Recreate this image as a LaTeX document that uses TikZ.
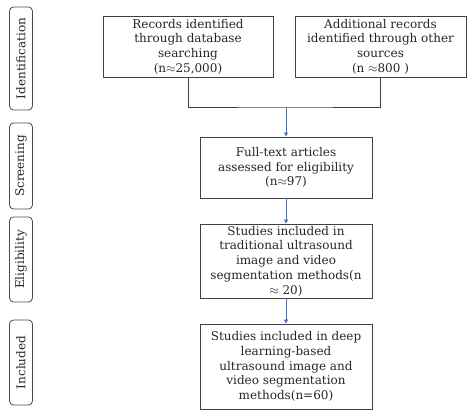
\documentclass[tikz,border=0pt]{standalone}
\usepackage{fontspec}
\setmainfont{DejaVu Serif}
\usetikzlibrary{positioning,arrows.meta}
\definecolor{flowblue}{HTML}{4472C4}

\begin{document}
\begin{tikzpicture}[x=1pt,y=-1pt]
\tikzstyle{every node}+=[inner sep=0pt,font=\fontsize{12}{14.7}\selectfont,text=black!85]
\tikzstyle{box}=[draw=black!75,line width=0.8pt,align=center,minimum width=172pt]
\tikzstyle{stage}=[draw=black!70,line width=0.8pt,rounded corners=4pt,rotate=90,minimum height=23pt]
\tikzstyle{flow}=[draw=flowblue,line width=0.7pt,-{Triangle[length=4pt,width=4pt]}]
\useasboundingbox (0,0) rectangle (474,417);
% stages
\node [stage,minimum width=103pt] (ident) at (21,58.5) {Identification};
\node [stage,minimum width=86pt] (screen) at (21,166) {Screening};
\node [stage,minimum width=85pt] (elig) at (21,259.5) {Eligibility};
\node [stage,minimum width=85pt] (incl) at (21,362.5) {Included};
% boxes
\node [box,minimum width=170pt,minimum height=61pt] (records) at (188,46.5)
  {Records identified\\through database\\searching\\(n$\approx$25,000)};
\node [box,minimum width=171pt,minimum height=61pt] (other) at (380.5,46.5)
  {Additional records\\identified through other\\sources\\(n $\approx$800 )};
\node [box,minimum height=61pt] (fulltext) at (286,167.5)
  {Full-text articles\\assessed for eligibility\\(n$\approx$97)};
\node [box,minimum height=74pt] (trad) at (286,261)
  {Studies included in\\traditional ultrasound\\image and video\\segmentation methods(n\\$\approx$ 20)};
\node [box,minimum height=85pt] (deep) at (286,366.5)
  {Studies included in deep\\learning-based\\ultrasound image and\\video segmentation\\methods(n=60)};
% connectors
\coordinate (join) at (286,107);
\draw [black!75,line width=0.8pt] (records.south) |- (join) -| (other.south);
\draw [flow] (join) -- (fulltext.north);
\draw [flow] (fulltext.south) -- (trad.north);
\draw [flow] (trad.south) -- (deep.north);
\end{tikzpicture}
\end{document}
